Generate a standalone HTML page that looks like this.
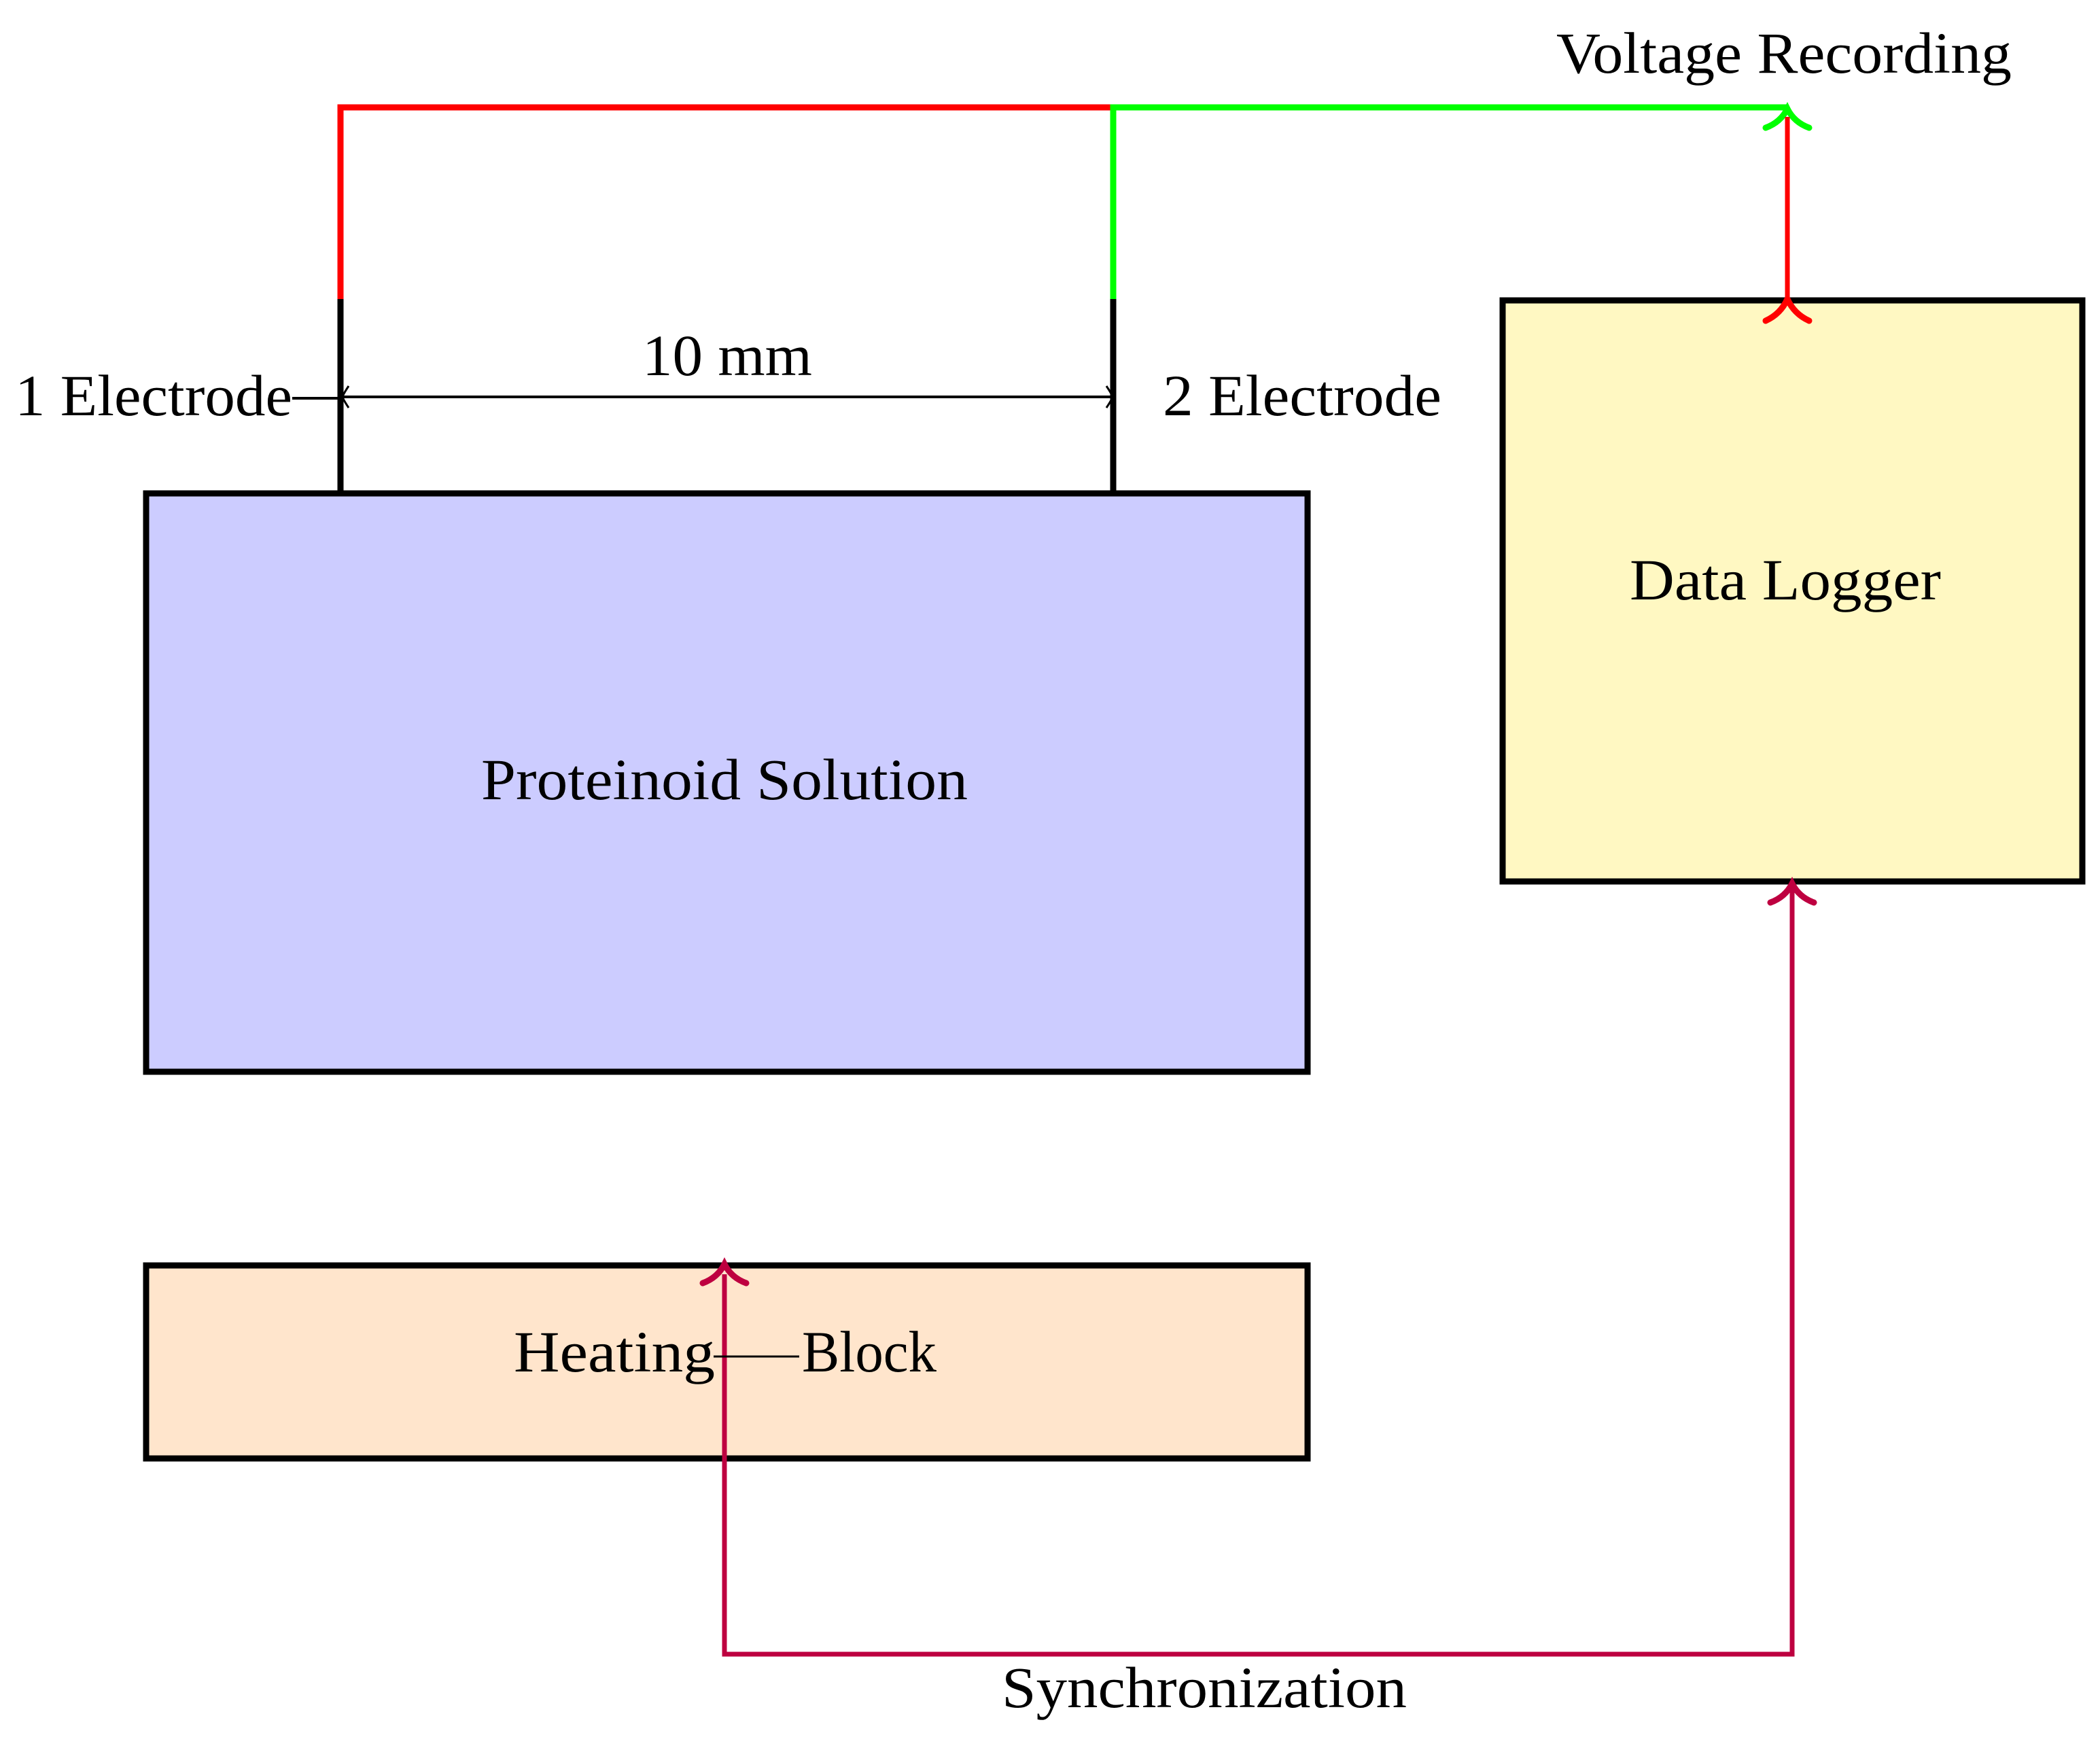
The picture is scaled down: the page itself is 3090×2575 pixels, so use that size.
<!DOCTYPE html>
<html><head><style>html,body{margin:0;padding:0;background:#fff}svg{display:block}</style></head>
<body>
<svg width="3090" height="2575" viewBox="0 0 3090 2575" xmlns="http://www.w3.org/2000/svg" font-family="Liberation Serif, serif" font-size="86" fill="#000">
<!-- boxes -->
<rect x="215" y="726" width="1709" height="851" fill="#ccccff" stroke="#000" stroke-width="9"/>
<rect x="2211" y="442" width="853" height="855" fill="#fff8c2" stroke="#000" stroke-width="9"/>
<rect x="215" y="1862" width="1709" height="284" fill="#ffe5cc" stroke="#000" stroke-width="9"/>
<!-- electrodes -->
<line x1="501" y1="440" x2="501" y2="726" stroke="#000" stroke-width="9"/>
<line x1="1638" y1="440" x2="1638" y2="726" stroke="#000" stroke-width="9"/>
<!-- red wire -->
<polyline points="501,440 501,158 1638,158" fill="none" stroke="#ff0000" stroke-width="9"/>
<!-- green wire -->
<polyline points="1638,440 1638,158 2630,158" fill="none" stroke="#00ff00" stroke-width="9"/>
<path d="M2598,188 Q2620,180 2630,160 Q2640,180 2662,188" fill="none" stroke="#00ff00" stroke-width="9" stroke-linecap="round"/>
<!-- red logger line -->
<line x1="2630" y1="172" x2="2630" y2="442" stroke="#ff0000" stroke-width="7"/>
<path d="M2598,472 Q2620,462 2630,440 Q2640,462 2662,472" fill="none" stroke="#ff0000" stroke-width="9" stroke-linecap="round"/>
<!-- dimension -->
<line x1="430" y1="586" x2="501" y2="586" stroke="#000" stroke-width="4"/>
<line x1="501" y1="584" x2="1638" y2="584" stroke="#000" stroke-width="4"/>
<path d="M513,568 Q505,580 504,584 Q505,588 513,600" fill="none" stroke="#000" stroke-width="3"/>
<path d="M1628,568 Q1636,580 1637,584 Q1636,588 1628,600" fill="none" stroke="#000" stroke-width="3"/>
<!-- sync -->
<polyline points="1066,1875 1066,2434 2637,2434 2637,1300" fill="none" stroke="#be0040" stroke-width="7"/>
<path d="M1034,1888 Q1056,1880 1066,1860 Q1076,1880 1098,1888" fill="none" stroke="#be0040" stroke-width="9" stroke-linecap="round"/>
<path d="M2605,1328 Q2627,1320 2637,1300 Q2647,1320 2669,1328" fill="none" stroke="#be0040" stroke-width="9" stroke-linecap="round"/>
<!-- heating dash -->
<line x1="1050" y1="1996" x2="1176" y2="1996" stroke="#000" stroke-width="3"/>
<!-- text -->
<text x="2290" y="107" textLength="670" lengthAdjust="spacingAndGlyphs">Voltage Recording</text>
<text x="22" y="611" textLength="408" lengthAdjust="spacingAndGlyphs">1 Electrode</text>
<text x="945" y="552" textLength="250" lengthAdjust="spacingAndGlyphs">10 mm</text>
<text x="1711" y="611" textLength="410" lengthAdjust="spacingAndGlyphs">2 Electrode</text>
<text x="2398" y="882" textLength="458" lengthAdjust="spacingAndGlyphs">Data Logger</text>
<text x="708" y="1176" textLength="716" lengthAdjust="spacingAndGlyphs">Proteinoid Solution</text>
<text x="756" y="2018" textLength="296" lengthAdjust="spacingAndGlyphs">Heating</text>
<text x="1180" y="2018" textLength="198" lengthAdjust="spacingAndGlyphs">Block</text>
<text x="1474" y="2512" textLength="596" lengthAdjust="spacingAndGlyphs">Synchronization</text>
</svg>
</body></html>
